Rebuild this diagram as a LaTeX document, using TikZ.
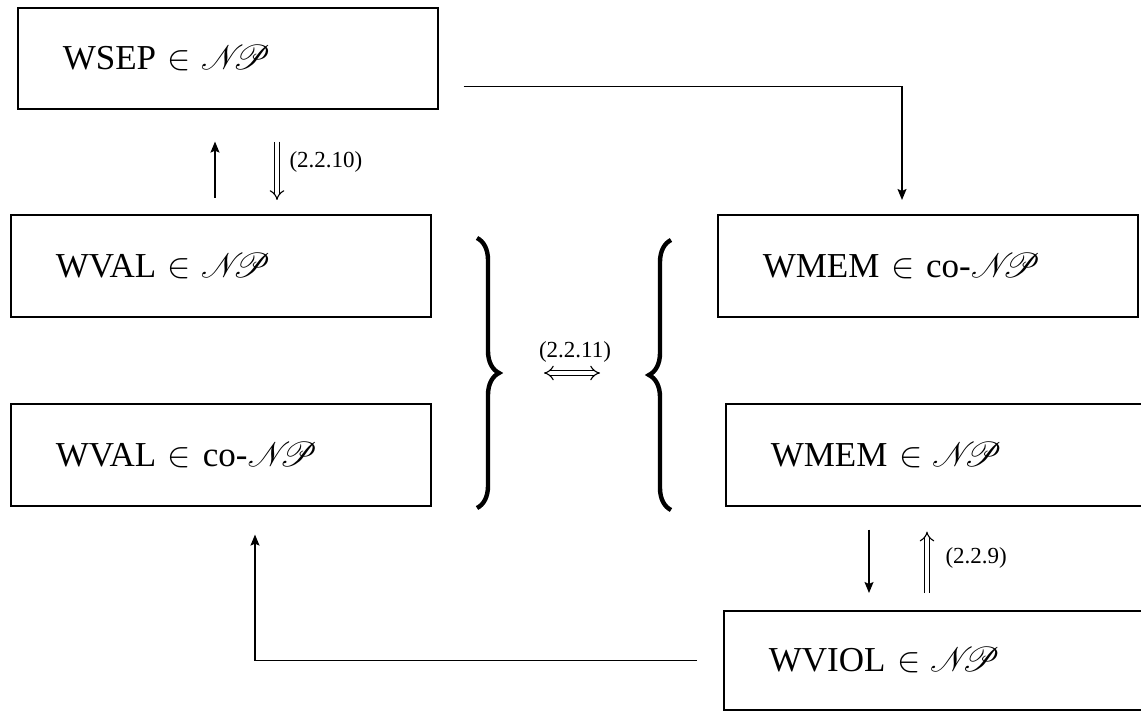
\RequirePackage{fix-cm}
\documentclass[tikz,border=0pt]{standalone}
\usepackage{fontspec}
\setmainfont{Liberation Serif}
\usepackage{mathrsfs}
\usetikzlibrary{arrows.meta,positioning,calc,decorations.pathreplacing}
\newcommand{\NPcls}{\mathscr{N}\mkern-6mu\mathscr{P}}
\tikzset{
	cbox/.style={draw=black, line width=0.8pt, anchor=north west,
		inner xsep=22.5pt, inner ysep=0pt, align=left,
		font=\fontsize{17.5}{21}\selectfont},
	carr/.style={-{Stealth[length=5.5pt,width=4.5pt,inset=1pt]}, line width=0.7pt},
	cimp/.style={double, double distance=2pt, line width=0.55pt, -Implies},
	clbl/.style={font=\fontsize{11.5}{13}\selectfont, inner sep=2pt},
	cbrace/.style={decorate, decoration={brace, amplitude=11pt, aspect=0.5},
		line width=2.2pt},
}

\begin{document}
\begin{tikzpicture}[x=0.5pt, y=-0.5pt]
	\useasboundingbox (0,0) rectangle (1141,711);
	\fill[white] (0,0) rectangle (1141,711);
	\clip (0,0) rectangle (1141,711);
	% boxes
	\node[cbox, text width=165pt, minimum height=50.5pt] (sep) at (17,7) {WSEP $\in\NPcls$};
	\node[cbox, text width=165pt, minimum height=51pt] (valnp) at (10,214) {WVAL $\in\NPcls$};
	\node[cbox, text width=165pt, minimum height=51pt] (valco) at (10,403) {WVAL $\in$ co-$\NPcls$};
	\node[cbox, text width=165pt, minimum height=51pt] (memco) at (717,214) {WMEM $\in$ co-$\NPcls$};
	\node[cbox, text width=172pt, minimum height=51pt] (memnp) at (725,403) {WMEM $\in\NPcls$};
	\node[cbox, text width=173pt, minimum height=49.5pt] (viol) at (723,610) {WVIOL $\in\NPcls$};
	% braces
	\draw[cbrace] (477,238) -- (477,508);
	\draw[cbrace] (671,510) -- (671,240);
	\coordinate (rtip) at (500,373);
	\coordinate (ltip) at (650,373);
	% connectors
	\draw[carr, shorten <=8pt, shorten >=16pt] ($(valnp.north west)+(205,0)$) -- ($(sep.south west)+(198,0)$);
	\draw[cimp, shorten <=16pt, shorten >=7pt] ($(sep.south west)+(260,0)$) -- ($(valnp.north west)+(267,0)$)
		node[clbl, midway, right=4pt] {(2.2.10)};
	\draw[carr, shorten >=7pt] ($(sep.south east)+(25,-23)$) -| ($(memco.north west)+(185,0)$);
	\draw[cimp, Implies-Implies, shorten <=22pt, shorten >=25pt] (rtip) -- (ltip)
		node[clbl, midway, above=3pt] {(2.2.11)};
	\draw[carr, shorten <=11.5pt, shorten >=8.5pt] ($(memnp.south west)+(144,0)$) -- ($(viol.north west)+(146,0)$);
	\draw[cimp, shorten <=8.5pt, shorten >=12.5pt] ($(viol.north west)+(204,0)$) -- ($(memnp.south west)+(202,0)$)
		node[clbl, midway, right=7pt] {(2.2.9)};
	\draw[carr, shorten >=14pt] ($(viol.west)+(-26,0)$) -| ($(valco.south west)+(245,0)$);
\end{tikzpicture}
\end{document}
